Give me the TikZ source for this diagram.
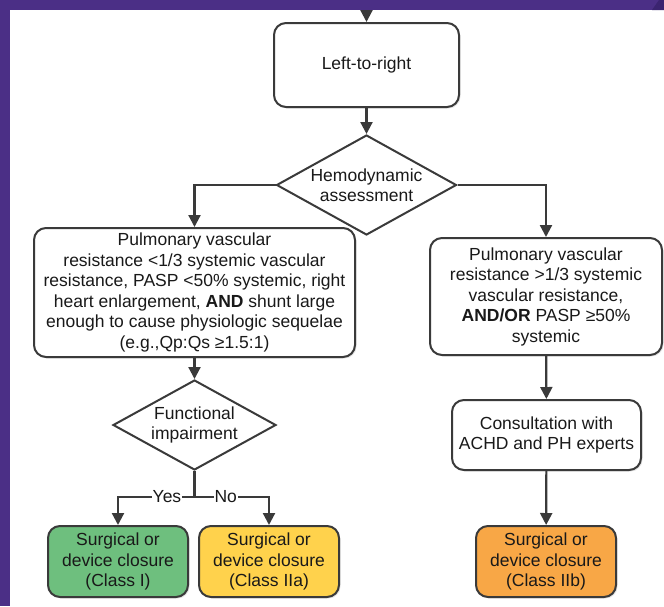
\documentclass[tikz,border=0pt]{standalone}
\usepackage{fontspec}
\setmainfont{Liberation Sans}
\usetikzlibrary{arrows.meta,positioning,shapes.geometric,shadows}

\definecolor{framepurple}{HTML}{4B2F86}
\definecolor{framedark}{HTML}{3B2470}
\definecolor{linegray}{HTML}{3A3A3A}
\definecolor{classone}{HTML}{6EBF7E}
\definecolor{classtwoa}{HTML}{FFD24C}
\definecolor{classtwob}{HTML}{F8A746}

\tikzset{
  flow box/.style={rectangle,rounded corners=12pt,draw=linegray,fill=white,
    line width=2pt,align=center,inner sep=2pt,
    drop shadow={shadow xshift=1.5pt,shadow yshift=-1.5pt,opacity=0.2}},
  decision/.style={diamond,draw=linegray,fill=white,align=center,inner sep=0pt,
    line width=2pt,shape aspect=1.8},
  link/.style={->,draw=linegray,line width=2.2pt},
  branch label/.style={fill=white,inner sep=1pt}
}

\begin{document}
\begin{tikzpicture}[x=1pt,y=-1pt,>={Triangle[length=12pt,width=12pt]},
  every node/.style={font=\fontsize{17.5}{20.5}\selectfont,text=black!90}]
  \useasboundingbox (0,0) rectangle (664,606);
  % frame
  \fill[framepurple] (0,0) rectangle (664,10);
  \fill[framepurple] (0,0) rectangle (10,606);
  \fill[framedark] (652,10) -- (659,0) -- (664,0) -- (664,10) -- cycle;

  \coordinate (in) at (366.5,10);
  \node[flow box,minimum width=185pt,minimum height=84pt] (ltr) at (366.5,65) {Left-to-right};
  \node[decision,minimum width=180pt,minimum height=100pt] (hemo) [below=26pt of ltr]
    {Hemodynamic\\assessment};
  \node[flow box,minimum width=321pt,minimum height=129pt] (pvlow) at (194.5,292.5)
    {Pulmonary vascular\\resistance <1/3 systemic vascular\\resistance, PASP <50\% systemic, right\\
     heart enlargement, \textbf{AND} shunt large\\enough to cause physiologic sequelae\\(e.g.,Qp:Qs ≥1.5:1)};
  \node[flow box,minimum width=232pt,minimum height=117pt] (pvhigh) at (546,296.5)
    {Pulmonary vascular\\resistance >1/3 systemic\\vascular resistance,\\\textbf{AND/OR} PASP ≥50\%\\systemic};
  \node[decision,minimum width=163pt,minimum height=90pt] (func) [below=21pt of pvlow]
    {Functional\\impairment};
  \node[flow box,minimum width=189pt,minimum height=70pt] (consult) at (546.5,435)
    {Consultation with\\ACHD and PH experts};
  \node[flow box,fill=classone,minimum width=140pt,minimum height=71pt] (cone) at (118,561.5)
    {Surgical or\\device closure\\(Class I)};
  \node[flow box,fill=classtwoa,minimum width=140pt,minimum height=71pt] (ctwoa) [right=9pt of cone]
    {Surgical or\\device closure\\(Class IIa)};
  \node[flow box,fill=classtwob,minimum width=140pt,minimum height=71pt] (ctwob) at (546,561.5)
    {Surgical or\\device closure\\(Class IIb)};
  \path (func.south) ++(0,26) coordinate (fork);

  \draw[link] (in) -- (ltr);
  \draw[link] (ltr) -- (hemo);
  \draw[link] (hemo.west) -| (pvlow.north);
  \draw[link] (hemo.east) -| (pvhigh.north);
  \draw[link] (pvlow) -- (func);
  \draw[link,-] (func.south) -- (fork);
  \draw[link] (fork) -| node[branch label,pos=0.18] {Yes} (cone.north);
  \draw[link] (fork) -| node[branch label,pos=0.21] {No} (ctwoa.north);
  \draw[link] (pvhigh) -- (consult);
  \draw[link] (consult) -- (ctwob);
\end{tikzpicture}
\end{document}
